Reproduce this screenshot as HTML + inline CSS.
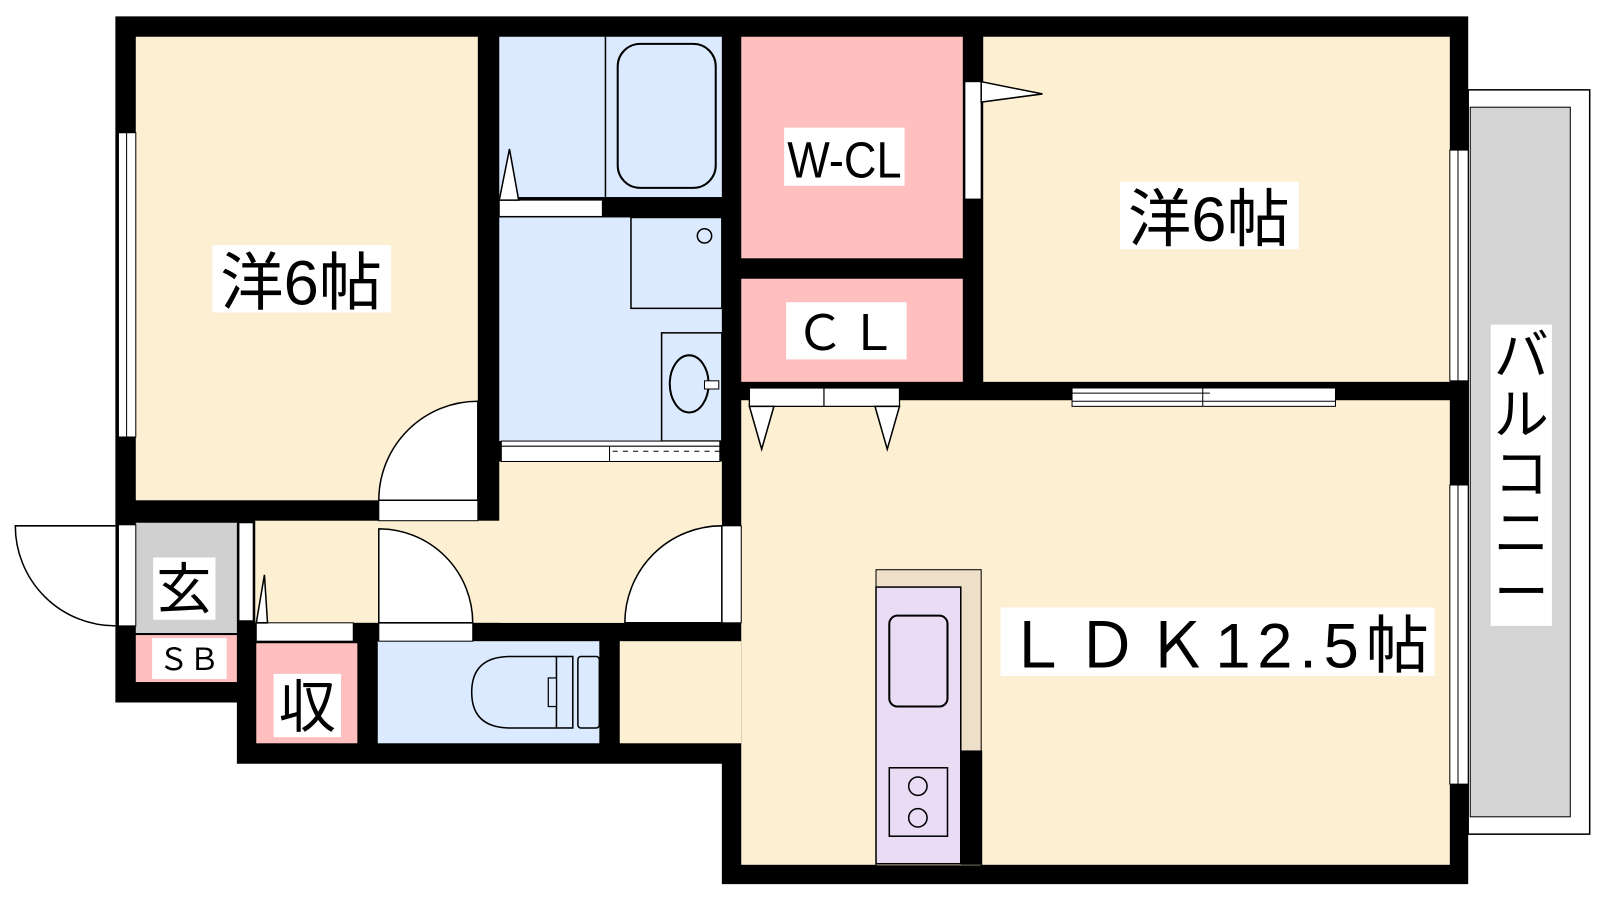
<!DOCTYPE html>
<html><head><meta charset="utf-8"><style>
html,body{margin:0;padding:0;background:#fff;}
svg{display:block}
text{font-family:"Liberation Sans","Noto Sans CJK JP",sans-serif;fill:#000}
</style></head><body>
<svg width="1600" height="900" viewBox="0 0 1600 900" xmlns="http://www.w3.org/2000/svg">
<g transform="scale(1.021)">
<!-- balcony -->
<rect x="1438" y="88" width="119" height="729" fill="#fff" stroke="#000" stroke-width="1.5"/>
<rect x="1440" y="105" width="98" height="695" fill="#d4d4d4" stroke="#000" stroke-width="1"/>
<!-- walls -->
<polygon points="113,16 1438,16 1438,866 707,866 707,748 232,748 232,688 113,688" fill="#000"/>
<!-- rooms -->
<rect x="133" y="36" width="335" height="454" fill="#fdf0d2"/>
<rect x="489" y="36" width="218" height="157" fill="#dbeafe"/>
<rect x="489" y="213" width="218" height="219" fill="#dbeafe"/>
<rect x="726" y="36" width="217" height="217" fill="#ffbfbf"/>
<rect x="726" y="273" width="217" height="101" fill="#ffbfbf"/>
<rect x="963" y="36" width="457" height="338" fill="#fdf0d2"/>
<rect x="726" y="392" width="694" height="455" fill="#fdf0d2"/>
<rect x="489" y="452" width="218" height="158" fill="#fdf0d2"/>
<rect x="250" y="510" width="457" height="100" fill="#fdf0d2"/>
<rect x="607" y="628" width="119" height="100" fill="#fdf0d2"/>
<rect x="133" y="512" width="99" height="108" fill="#d0d0d0"/>
<rect x="133" y="622" width="99" height="46" fill="#ffbfbf"/>
<rect x="251" y="630" width="99" height="98" fill="#ffbfbf"/>
<rect x="370" y="628" width="217" height="100" fill="#dbeafe"/>
<!-- bath fixtures -->
<line x1="593" y1="36" x2="593" y2="193" stroke="#000" stroke-width="1.5"/>
<rect x="605" y="43" width="96" height="141" rx="22" fill="none" stroke="#000" stroke-width="2"/>
<rect x="489" y="196" width="101" height="16" fill="#fff" stroke="#000" stroke-width="1"/>
<polygon points="489,196 508,196 499,146" fill="#fff" stroke="#000" stroke-width="1.5"/>
<rect x="618" y="213" width="89" height="89" fill="none" stroke="#000" stroke-width="1.5"/>
<circle cx="690" cy="231" r="7" fill="none" stroke="#000" stroke-width="1.5"/>
<rect x="648" y="326" width="59" height="106" fill="none" stroke="#000" stroke-width="1.5"/>
<ellipse cx="675" cy="376" rx="19" ry="28" fill="none" stroke="#000" stroke-width="2"/>
<rect x="690" y="373" width="14" height="8" fill="#fff" stroke="#000" stroke-width="1"/>
<rect x="491" y="432" width="214" height="20" fill="#fff" stroke="#000" stroke-width="1"/>
<line x1="491" y1="437" x2="705" y2="437" stroke="#000" stroke-width="1"/>
<line x1="597" y1="437" x2="597" y2="452" stroke="#000" stroke-width="1"/>
<line x1="600" y1="442" x2="705" y2="442" stroke="#000" stroke-width="1" stroke-dasharray="5,5"/>
<!-- doors -->
<rect x="371" y="490" width="97" height="20" fill="#fff" stroke="#000" stroke-width="1"/>
<path d="M468,490 L371,490 A97,97 0 0 1 468,393 Z" fill="#fff" stroke="#000" stroke-width="1.5"/>
<rect x="371" y="610" width="92" height="18" fill="#fff" stroke="#000" stroke-width="1"/>
<path d="M371,610 L371,518 A92,92 0 0 1 463,610 Z" fill="#fff" stroke="#000" stroke-width="1.5"/>
<rect x="707" y="515" width="19" height="95" fill="#fff" stroke="#000" stroke-width="1"/>
<path d="M707,610 L612,610 A95,95 0 0 1 707,515 Z" fill="#fff" stroke="#000" stroke-width="1.5"/>
<rect x="116" y="514" width="17" height="99" fill="#fff" stroke="#000" stroke-width="1"/>
<path d="M113,613 A98,98 0 0 1 15,515 L113,515" fill="#fff" stroke="#000" stroke-width="1.5"/>
<rect x="234" y="512" width="14" height="96" fill="#fff" stroke="#000" stroke-width="1"/>
<rect x="251" y="610" width="95" height="18" fill="#fff" stroke="#000" stroke-width="1"/>
<polygon points="251,610 262,610 259,563" fill="#fff" stroke="#000" stroke-width="1.5"/>
<!-- toilet -->
<path d="M545,643 L500,643 Q462,643 462,678 Q462,713 500,713 L545,713" fill="none" stroke="#000" stroke-width="1.5"/>
<rect x="545" y="643" width="16" height="70" fill="none" stroke="#000" stroke-width="1.5"/>
<rect x="537" y="664" width="8" height="28" fill="#dbeafe" stroke="#000" stroke-width="1.2"/>
<rect x="566" y="643" width="21" height="70" rx="3" fill="none" stroke="#000" stroke-width="1.5"/>
<!-- windows -->
<rect x="116" y="130" width="17" height="298" fill="#fff" stroke="#000" stroke-width="1"/>
<line x1="124" y1="130" x2="124" y2="428" stroke="#000" stroke-width="1"/>
<rect x="1420" y="147" width="18" height="226" fill="#fff" stroke="#000" stroke-width="1"/>
<line x1="1428" y1="147" x2="1428" y2="373" stroke="#000" stroke-width="1"/>
<rect x="1420" y="475" width="18" height="293" fill="#fff" stroke="#000" stroke-width="1"/>
<line x1="1428" y1="475" x2="1428" y2="768" stroke="#000" stroke-width="1"/>
<rect x="945" y="80" width="16" height="115" fill="#fff" stroke="#000" stroke-width="1"/>
<polygon points="961,80 961,100 1021,92" fill="#fff" stroke="#000" stroke-width="1.5"/>
<rect x="1050" y="380" width="258" height="18" fill="#fff" stroke="#000" stroke-width="1"/>
<line x1="1050" y1="385" x2="1185" y2="385" stroke="#000" stroke-width="1"/>
<line x1="1050" y1="393" x2="1308" y2="393" stroke="#000" stroke-width="1"/>
<line x1="1178" y1="380" x2="1178" y2="398" stroke="#000" stroke-width="1"/>
<rect x="734" y="380" width="147" height="18" fill="#fff" stroke="#000" stroke-width="1.2"/>
<rect x="734" y="380" width="73" height="18" fill="#fff" stroke="#000" stroke-width="1.2"/>
<polygon points="734,398 758,398 746,440" fill="#fff" stroke="#000" stroke-width="1.5"/>
<polygon points="857,398 881,398 869,440" fill="#fff" stroke="#000" stroke-width="1.5"/>
<!-- kitchen -->
<rect x="858" y="558" width="103" height="290" fill="#eedfc9" stroke="#000" stroke-width="1"/>
<rect x="858" y="575" width="83" height="271" fill="#eadcf5" stroke="#000" stroke-width="1.5"/>
<rect x="941" y="735" width="21" height="112" fill="#000"/>
<rect x="871" y="603" width="57" height="89" rx="8" fill="none" stroke="#000" stroke-width="2"/>
<rect x="871" y="752" width="57" height="67" fill="none" stroke="#000" stroke-width="1.5"/>
<circle cx="899" cy="770" r="9" fill="none" stroke="#000" stroke-width="1.5"/>
<circle cx="899" cy="801" r="9" fill="none" stroke="#000" stroke-width="1.5"/>
<!-- labels -->
<rect x="208" y="240" width="175" height="66" fill="#fff"/>
<text x="295" y="298" font-size="62" text-anchor="middle">洋6帖</text>
<rect x="1097" y="178" width="175" height="66" fill="#fff"/>
<text x="1184" y="236" font-size="62" text-anchor="middle">洋6帖</text>
<rect x="768" y="125" width="118" height="57" fill="#fff"/>
<text x="827" y="174" font-size="50" font-family="Liberation Mono" text-anchor="middle" textLength="112" lengthAdjust="spacingAndGlyphs">W-CL</text>
<rect x="770" y="296" width="118" height="56" fill="#fff"/>
<text x="829" y="343" font-size="48" text-anchor="middle" textLength="100">ＣＬ</text>
<rect x="980" y="595" width="425" height="67" fill="#fff"/>
<text x="1192" y="654" font-size="62" text-anchor="middle" textLength="415">ＬＤＫ12.5帖</text>
<rect x="1460" y="318" width="60" height="295" fill="#fff"/>
<text font-size="54" text-anchor="middle"><tspan x="1490" y="367">バ</tspan><tspan x="1490" y="425">ル</tspan><tspan x="1490" y="483">コ</tspan><tspan x="1490" y="541">ニ</tspan><tspan x="1490" y="599">ー</tspan></text>
<rect x="150" y="546" width="61" height="61" fill="#fff"/>
<text x="180" y="596" font-size="54" text-anchor="middle">玄</text>
<rect x="149" y="625" width="73" height="40" fill="#fff"/>
<text x="185" y="656" font-size="30" text-anchor="middle">ＳＢ</text>
<rect x="268" y="660" width="66" height="62" fill="#fff"/>
<text x="301" y="712" font-size="56" text-anchor="middle">収</text>
</g>
</svg>
</body></html>
